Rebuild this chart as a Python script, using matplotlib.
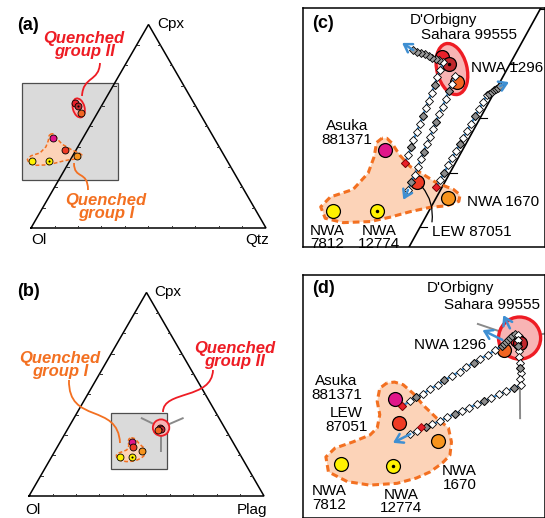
import numpy as np
import matplotlib.pyplot as plt
from matplotlib.patches import Polygon, Ellipse, Circle, Rectangle, PathPatch
from matplotlib.path import Path

plt.rcParams['font.family'] = ['Liberation Sans', 'DejaVu Sans']

W, H = 545, 518
H3 = np.sqrt(3) / 2

# ---------------- samples ----------------
names = ['Asuka 881371', 'LEW 87051', 'NWA 1670', 'NWA 7812', 'NWA 12774',
         "D'Orbigny", 'Sahara 99555', 'NWA 1296']
colors = ['#e0168a', '#ef3b24', '#f7941d', '#fff200', '#fff200',
          '#e8202a', '#c1272d', '#f26522']
dotted = [False, False, False, False, True, False, True, False]

# Ol-Cpx-Qtz projection (fractions; Ol = 1 - Cpx - Qtz)
cpx_q = [0.441, 0.383, 0.353, 0.329, 0.329, 0.612, 0.599, 0.566]
qtz_q = [-0.129, -0.046, 0.020, -0.160, -0.087, -0.119, -0.101, -0.072]

# Ol-Cpx-Plag projection
cpx_p = [0.267, 0.240, 0.219, 0.193, 0.191, 0.334, 0.330, 0.322]
plag_p = [0.306, 0.323, 0.372, 0.290, 0.342, 0.392, 0.397, 0.386]

# quenched group I outline
g1_cpx_q = [0.463, 0.455, 0.429, 0.399, 0.369, 0.355, 0.337, 0.316, 0.308, 0.310, 0.318, 0.328,
            0.336, 0.339, 0.347, 0.359, 0.369, 0.381, 0.396, 0.411, 0.432, 0.454, 0.463]
g1_qtz_q = [-0.145, -0.150, -0.141, -0.136, -0.146, -0.177, -0.184, -0.166, -0.132, -0.088, -0.059, -0.031,
            -0.002, 0.025, 0.041, 0.037, 0.021, -0.013, -0.042, -0.072, -0.100, -0.124, -0.137]
g1_cpx_p = [0.285, 0.279, 0.264, 0.249, 0.234, 0.226, 0.218, 0.211, 0.201, 0.184, 0.173, 0.169,
            0.171, 0.177, 0.184, 0.194, 0.203, 0.218, 0.234, 0.245, 0.260, 0.273, 0.283, 0.286]
g1_plag_p = [0.289, 0.285, 0.290, 0.300, 0.305, 0.302, 0.289, 0.275, 0.271, 0.282, 0.306, 0.330,
             0.356, 0.372, 0.382, 0.389, 0.392, 0.386, 0.375, 0.358, 0.337, 0.321, 0.306, 0.296]

# quenched group II
g2_center_q = (0.590, -0.092)
g2_center_p = (0.336, 0.394)

# thermal divide lines near group II (Ol-Cpx-Plag): ends (cpx, plag)
div_ov = [(0.382, 0.289), (0.382, 0.463), (0.221, 0.451)]
div_zm = [(0.352, 0.345), (0.345, 0.434), (0.245, 0.440)]

# ---------------- model liquid lines (Ol-Cpx-Qtz) ----------------
c1_cpx = [0.418, 0.432, 0.446, 0.460, 0.475, 0.489, 0.503, 0.518, 0.532, 0.546, 0.560, 0.575, 0.589, 0.603]
c1_qtz = [-0.084, -0.086, -0.088, -0.091, -0.093, -0.095, -0.097, -0.100, -0.102, -0.104, -0.106, -0.109, -0.111, -0.113]
c1_end_cpx = [0.606, 0.609, 0.611, 0.614, 0.617, 0.620, 0.622, 0.625]
c1_end_qtz = [-0.121, -0.128, -0.136, -0.143, -0.151, -0.159, -0.166, -0.174]
c1_tip = (0.638, -0.199)

c2_cpx = [0.577, 0.563, 0.549, 0.535, 0.521, 0.507, 0.493, 0.479, 0.466, 0.452, 0.438, 0.424, 0.410, 0.396, 0.382, 0.368]
c2_qtz = [-0.080, -0.079, -0.077, -0.075, -0.073, -0.072, -0.070, -0.068, -0.066, -0.065, -0.063, -0.061, -0.059, -0.057, -0.056, -0.054]
c2_tip = (0.350, -0.053)

c3_cpx = [0.374, 0.387, 0.400, 0.413, 0.426, 0.439, 0.452, 0.464, 0.477, 0.490, 0.503, 0.516, 0.529, 0.542]
c3_qtz = [-0.010, -0.010, -0.010, -0.010, -0.010, -0.010, -0.010, -0.010, -0.010, -0.010, -0.010, -0.010, -0.010, -0.010]
c3_end_cpx = [0.545, 0.548, 0.551, 0.554, 0.556, 0.559]
c3_end_qtz = [-0.007, -0.005, -0.003, -0.001, 0.002, 0.004]
c3_tip = (0.566, 0.015)

# ---------------- model liquid lines (Ol-Cpx-Plag) ----------------
d1_cpx = [0.259, 0.264, 0.269, 0.273, 0.278, 0.283, 0.288, 0.293, 0.298, 0.303, 0.308, 0.312, 0.317, 0.322, 0.327]
d1_plag = [0.317, 0.322, 0.326, 0.331, 0.335, 0.340, 0.344, 0.349, 0.354, 0.358, 0.363, 0.367, 0.372, 0.377, 0.381]
d1_end_cpx = [0.329, 0.332, 0.334, 0.336, 0.338, 0.341]
d1_end_plag = [0.382, 0.383, 0.384, 0.385, 0.386, 0.387]
d1_arrow = [(0.334, 0.378), (0.345, 0.353)]

d2_col_cpx = [0.340, 0.334, 0.327, 0.321, 0.315, 0.308, 0.302, 0.296, 0.289, 0.283]
d2_col_plag = [0.390, 0.393, 0.397, 0.401, 0.404, 0.408, 0.411, 0.415, 0.418, 0.422]
d2_cpx = [0.279, 0.276, 0.272, 0.268, 0.264, 0.261, 0.257, 0.253, 0.250, 0.246, 0.242, 0.238, 0.235, 0.231, 0.227]
d2_plag = [0.417, 0.411, 0.406, 0.400, 0.395, 0.390, 0.384, 0.379, 0.373, 0.368, 0.363, 0.357, 0.352, 0.346, 0.341]
d2_red = (0.235, 0.348)
d2_tip = (0.217, 0.329)
d3_arrow = [(0.347, 0.379), (0.362, 0.365)]

RED = '#ee1c24'
ORANGE = '#f37021'
BLUE = '#3f8fd2'
PEACH = '#fcd3b8'
PINK = '#f8b4b4'


def tern(cpx, third):
    cpx = np.asarray(cpx, dtype=float)
    third = np.asarray(third, dtype=float)
    return third + cpx / 2, cpx * H3


def pax(l, t, r, b):
    return fig.add_axes([l / W, 1 - b / H, (r - l) / W, (b - t) / H])


def fx(px):
    return px / W


def fy(py):
    return 1 - py / H


def triangle(ax, tick, lw):
    ax.plot([0, 1, 0.5, 0], [0, 0, H3, 0], color='k', lw=lw, zorder=2,
            solid_joinstyle='miter')
    for k in np.arange(1, 10) / 10:
        ax.plot([k, k], [0, tick], color='#333333', lw=0.7, zorder=2)
        ax.plot([k / 2, k / 2 + tick], [k * H3, k * H3], color='#333333', lw=0.7, zorder=2)
        ax.plot([1 - k / 2, 1 - k / 2 - tick], [k * H3, k * H3], color='#333333', lw=0.7, zorder=2)


def group1(ax, cpx, third, lw, dash):
    x, y = tern(cpx, third)
    pts = np.column_stack([x, y])
    ax.add_patch(Polygon(pts, closed=True, fc=PEACH, ec='none', zorder=1))
    ax.add_patch(Polygon(pts, closed=True, fill=False, ec=ORANGE, lw=lw,
                         ls=(0, dash), joinstyle='round', zorder=2))


def samples(ax, cpx, third, ms, dms, mew):
    x, y = tern(cpx, third)
    for xi, yi, c, d in zip(x, y, colors, dotted):
        ax.plot(xi, yi, 'o', ms=ms, mfc=c, mec='k', mew=mew, zorder=3)
        if d:
            ax.plot(xi, yi, 'o', ms=dms, mfc='k', mec='none', zorder=3)


def arrow(ax, a, b):
    xa, ya = tern(a[0], a[1])
    xb, yb = tern(b[0], b[1])
    ax.annotate('', xy=(xb, yb), xytext=(xa, ya),
                arrowprops=dict(arrowstyle='->,head_length=0.55,head_width=0.35',
                                color=BLUE, lw=1.8, shrinkA=0, shrinkB=0), zorder=6)


def lld(ax, cpx, third, end_cpx=(), end_third=(), red=True):
    x, y = tern(list(cpx) + list(end_cpx), list(third) + list(end_third))
    n = len(cpx)
    ax.plot(x, y, color=BLUE, lw=1.6, zorder=4)
    ax.plot(x[:n], y[:n], ls='none', marker='D', ms=4.3, mfc='white', mec='k', mew=0.6, zorder=5)
    ax.plot(x[2:n:4], y[2:n:4], ls='none', marker='D', ms=4.3, mfc='#8c8c8c', mec='k', mew=0.6, zorder=5)
    if len(end_cpx):
        ax.plot(x[n:], y[n:], ls='none', marker='D', ms=4.3, mfc='#9a9a9a', mec='k', mew=0.6, zorder=5)
    if red:
        ax.plot(x[0], y[0], ls='none', marker='D', ms=4.3, mfc='#e8202a', mec='#8b0000', mew=0.6, zorder=6)


def leader(p0, c1, c2, p3, color):
    verts = [(fx(p[0]), fy(p[1])) for p in (p0, c1, c2, p3)]
    path = Path(verts, [Path.MOVETO, Path.CURVE4, Path.CURVE4, Path.CURVE4])
    fig.patches.append(PathPatch(path, fill=False, ec=color, lw=1.3,
                                 transform=fig.transFigure, zorder=5))


fig = plt.figure(figsize=(W / 100, H / 100), dpi=100)

ZOOM_C = (-0.045, 0.358, 0.228, 0.608)
BOX_A = (-0.038, 0.370, 0.204, 0.617)
ZOOM_D = (0.349, 0.587, 0.114, 0.353)

# ---------------- (a) ----------------
axA = pax(0, 0, 270, 259)
axA.set_xlim(-31 / 235, 239 / 235)
axA.set_ylim(-31 / 235, 228 / 235)
axA.axis('off')
axA.add_patch(Rectangle((BOX_A[0], BOX_A[2]), BOX_A[1] - BOX_A[0], BOX_A[3] - BOX_A[2],
                        fc='#dadada', ec='#4d4d4d', lw=0.9, zorder=0.5))
triangle(axA, 0.01, 1.1)
group1(axA, g1_cpx_q, g1_qtz_q, 1.1, (2.5, 1.5))
ex, ey = tern(g2_center_q[0], g2_center_q[1])
axA.add_patch(Ellipse((ex, ey), 0.05, 0.083, angle=15, fc=PINK, ec=RED, lw=1.3, zorder=2))
samples(axA, cpx_q, qtz_q, 5, 1.5, 0.6)

# ---------------- (b) ----------------
axB = pax(0, 259, 270, 518)
axB.set_xlim(-29 / 235, 241 / 235)
axB.set_ylim(-22 / 235, 237 / 235)
axB.axis('off')
axB.add_patch(Rectangle((ZOOM_D[0], ZOOM_D[2]), ZOOM_D[1] - ZOOM_D[0], ZOOM_D[3] - ZOOM_D[2],
                        fc='#dadada', ec='#4d4d4d', lw=0.9, zorder=0.5))
triangle(axB, 0.01, 1.1)
group1(axB, g1_cpx_p, g1_plag_p, 1.1, (2.5, 1.5))
cx, cy = tern(g2_center_p[0], g2_center_p[1])
for end in div_ov:
    xe, ye = tern(end[0], end[1])
    axB.plot([cx, xe], [cy, ye], color='#8a8a8a', lw=1.4, zorder=1.5)
axB.add_patch(Circle((cx, cy), 0.035, fc=PINK, ec=RED, lw=1.3, zorder=2))
samples(axB, cpx_p, plag_p, 5, 1.5, 0.6)

# ---------------- (c) ----------------
axC = pax(303, 8, 545, 247)
axC.set_xlim(ZOOM_C[0], ZOOM_C[1])
axC.set_ylim(ZOOM_C[2], ZOOM_C[3])
axC.set_xticks([])
axC.set_yticks([])
for s in axC.spines.values():
    s.set_linewidth(1.1)
axC.plot([0, 0.5], [0, H3], color='k', lw=1.2, zorder=2)
for k in np.arange(1, 10) / 10:
    axC.plot([k / 2, k / 2 + 0.012], [k * H3, k * H3], color='k', lw=0.8, zorder=2)
group1(axC, g1_cpx_q, g1_qtz_q, 2.2, (2.2, 1.3))
axC.add_patch(Ellipse((ex, ey), 0.05, 0.083, angle=15, fc=PINK, ec=RED, lw=2.4, zorder=2))
samples(axC, cpx_q, qtz_q, 10, 2.5, 0.9)
lld(axC, c1_cpx, c1_qtz, c1_end_cpx, c1_end_qtz)
lld(axC, c2_cpx, c2_qtz, red=False)
lld(axC, c3_cpx, c3_qtz, c3_end_cpx, c3_end_qtz)
arrow(axC, (c1_end_cpx[-1], c1_end_qtz[-1]), c1_tip)
arrow(axC, (c2_cpx[-1], c2_qtz[-1]), c2_tip)
arrow(axC, (c3_end_cpx[-1], c3_end_qtz[-1]), c3_tip)
lx, ly = tern(cpx_q[1], qtz_q[1])
axC.annotate('', xy=(lx, ly), xytext=(0.533, 0.105), textcoords='axes fraction',
             arrowprops=dict(arrowstyle='-', color='k', lw=0.9, shrinkA=0, shrinkB=5,
                             connectionstyle='arc3,rad=0.25'), zorder=3)

lab = dict(fontsize=11, ha='center', va='center', linespacing=0.95, zorder=8)
tC = axC.transAxes
axC.text(0.037, 0.937, '(c)', transform=tC, fontsize=13, fontweight='bold', ha='left', va='center')
axC.text(0.579, 0.950, "D'Orbigny", transform=tC, **lab)
axC.text(0.686, 0.887, 'Sahara 99555', transform=tC, **lab)
axC.text(0.843, 0.749, 'NWA 1296', transform=tC, **lab)
axC.text(0.182, 0.477, 'Asuka\n881371', transform=tC, **lab)
axC.text(0.826, 0.190, 'NWA 1670', transform=tC, **lab)
axC.text(0.100, 0.040, 'NWA\n7812', transform=tC, **lab)
axC.text(0.315, 0.040, 'NWA\n12774', transform=tC, **lab)
axC.text(0.697, 0.064, 'LEW 87051', transform=tC, **lab)

# ---------------- (d) ----------------
axD = pax(303, 275, 545, 518)
axD.set_xlim(ZOOM_D[0], ZOOM_D[1])
axD.set_ylim(ZOOM_D[2], ZOOM_D[3])
axD.set_xticks([])
axD.set_yticks([])
for s in axD.spines.values():
    s.set_linewidth(1.1)
group1(axD, g1_cpx_p, g1_plag_p, 2.2, (2.2, 1.3))
for end in div_zm:
    xe, ye = tern(end[0], end[1])
    axD.plot([cx, xe], [cy, ye], color='#8a8a8a', lw=1.4, zorder=1.5)
axD.add_patch(Circle((cx, cy), 0.0207, fc=PINK, ec=RED, lw=2.4, zorder=2))
samples(axD, cpx_p, plag_p, 10, 2.5, 0.9)
lld(axD, d1_cpx, d1_plag, d1_end_cpx, d1_end_plag)
lld(axD, d2_col_cpx + d2_cpx, d2_col_plag + d2_plag, red=False)
rx, ry = tern(d2_red[0], d2_red[1])
axD.plot(rx, ry, ls='none', marker='D', ms=4.3, mfc='#e8202a', mec='#8b0000', mew=0.6, zorder=6)
arrow(axD, d1_arrow[0], d1_arrow[1])
arrow(axD, (d2_cpx[-1], d2_plag[-1]), d2_tip)
arrow(axD, d3_arrow[0], d3_arrow[1])

tD = axD.transAxes
axD.text(0.036, 0.945, '(d)', transform=tD, fontsize=13, fontweight='bold', ha='left', va='center')
axD.text(0.649, 0.945, "D'Orbigny", transform=tD, **lab)
axD.text(0.780, 0.877, 'Sahara 99555', transform=tD, **lab)
axD.text(0.607, 0.712, 'NWA 1296', transform=tD, **lab)
axD.text(0.139, 0.535, 'Asuka\n881371', transform=tD, **lab)
axD.text(0.178, 0.403, 'LEW\n87051', transform=tD, **lab)
axD.text(0.646, 0.165, 'NWA\n1670', transform=tD, **lab)
axD.text(0.109, 0.082, 'NWA\n7812', transform=tD, **lab)
axD.text(0.404, 0.067, 'NWA\n12774', transform=tD, **lab)

# ---------------- labels on (a) and (b) ----------------
fig.text(fx(17), fy(25), '(a)', fontsize=13, fontweight='bold', ha='left', va='center')
fig.text(fx(157), fy(24), 'Cpx', fontsize=11, ha='left', va='center')
fig.text(fx(31), fy(240), 'Ol', fontsize=11, ha='left', va='center')
fig.text(fx(269), fy(240), 'Qtz', fontsize=11, ha='right', va='center')

fig.text(fx(17), fy(292), '(b)', fontsize=13, fontweight='bold', ha='left', va='center')
fig.text(fx(154), fy(292), 'Cpx', fontsize=11, ha='left', va='center')
fig.text(fx(25), fy(510), 'Ol', fontsize=11, ha='left', va='center')
fig.text(fx(267), fy(510), 'Plag', fontsize=11, ha='right', va='center')

qd = dict(fontsize=12, fontweight='bold', fontstyle='italic', ha='center', va='center',
          linespacing=0.9)
fig.text(fx(84), fy(45), 'Quenched\ngroup II', color=RED, **qd)
fig.text(fx(106), fy(207), 'Quenched\ngroup I', color=ORANGE, **qd)
fig.text(fx(60), fy(365), 'Quenched\ngroup I', color=ORANGE, **qd)
fig.text(fx(235), fy(355), 'Quenched\ngroup II', color=RED, **qd)

leader((100, 63), (99, 82), (83, 76), (82, 96), RED)
leader((74, 163), (74, 180), (88, 170), (88, 190), ORANGE)
leader((69, 380), (68, 425), (118, 402), (120, 443), ORANGE)
leader((213, 370), (212, 400), (163, 390), (163, 412), RED)

fig.savefig('out.png', dpi=100)
